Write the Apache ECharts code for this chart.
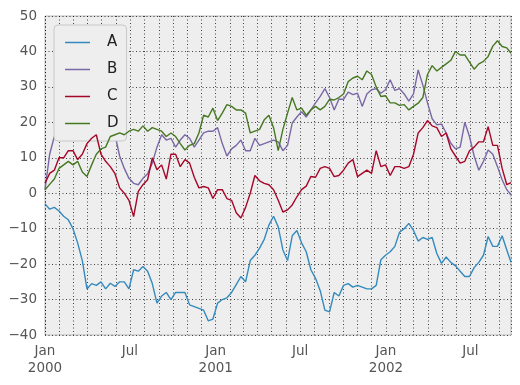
<!DOCTYPE html>
<html>
<head>
<meta charset="utf-8">
<script src="https://cdn.jsdelivr.net/npm/echarts@6/dist/echarts.min.js"></script>
<style>
html,body{margin:0;padding:0;background:#ffffff;}
#chart{width:520px;height:385px;}
</style>
</head>
<body>
<div id="chart"></div>
<script>
// Sampling index: every 10 days from 2000-01-01, plus the last day (day 999)
const startDate = '2000-01-01';
const dayOffsets = [0,10,20,30,40,50,60,70,80,90,100,110,120,130,140,150,160,170,180,190,200,210,220,230,240,250,260,270,280,290,300,310,320,330,340,350,360,370,380,390,400,410,420,430,440,450,460,470,480,490,500,510,520,530,540,550,560,570,580,590,600,610,620,630,640,650,660,670,680,690,700,710,720,730,740,750,760,770,780,790,800,810,820,830,840,850,860,870,880,890,900,910,920,930,940,950,960,970,980,990,999];

const seriesA = [-3,-4.5,-4,-5,-6.5,-7.5,-10,-14,-19,-27,-25.5,-26,-25,-27,-25.4,-26.3,-25,-25,-27,-21.6,-22,-20.7,-22,-25.5,-31,-29,-28,-30,-28,-28,-28,-31.5,-32,-32.5,-33,-36,-35.5,-31,-30,-29.5,-28,-25.8,-23.5,-25,-19,-17.5,-15.5,-13,-9,-6.5,-9.5,-16,-19,-12,-10.5,-14,-16.5,-21.6,-24,-27.5,-33,-33.5,-28,-29,-26,-25.5,-26.5,-26,-26.5,-27,-27,-26,-18.8,-17.5,-16.5,-15,-11,-10,-8.5,-10.5,-13.5,-12.5,-13,-12.5,-17,-19.8,-18,-19.5,-20.5,-22,-23.5,-23.5,-21,-19.5,-17.5,-12.2,-15,-15,-12,-16,-19.5];
const seriesB = [1,11,16,17,16,18,18,17,18,19,19,19,19,19,18,16.5,10.5,7,4.2,2.8,2.4,4.2,5.5,8.5,13,16.5,15,15.5,13,15,16.5,15.5,13,15,17,17.5,17.5,18.5,14,10.5,12.5,13.5,15,12,12,15.5,13.5,14,14.5,15,14.5,12,13.5,19.8,21.5,23,21.5,23.5,25.5,27.3,29.5,27,23.5,26.5,26.5,28.5,27.8,28.2,24.5,28,29.2,29.5,28.2,29.2,32,29,29.5,28,26,28,34.8,30.5,25.5,21,19.3,19.5,17,14.1,12.5,13,20,16,10.5,6.5,9,12.2,11,7.5,3.8,1,-0.5];
const seriesC = [2.8,5.6,6.5,10,10,12,12,9.5,11,14,15.5,16.5,11,9,7.5,5.5,1.5,0,-2,-6.6,0.5,2.4,3.8,10,6.6,8,4,11,11,7.5,9.5,8.5,4.5,1.5,1.9,1.5,-1.5,1,1,-1.5,-2,-5.5,-7,-4,0,5,3.5,2.8,2.4,1,-2,-5.3,-4.7,-3.3,-1,1,2,4.7,4.5,7,7.5,7,4.7,5,6.5,8.5,9.5,4.7,5.6,6.5,5.6,12,7.5,8,5,7.5,7.5,7,7.5,11,17,18.5,20.5,19,18.5,16,17,12.5,10.5,8.5,9,12,13,14.5,14.5,18.8,13.5,13.5,7,2.4,3];
const seriesD = [1,2.5,4,7,8,9,8,9,6,4.7,8,11,12.5,13,16,16.5,17,16.5,17.5,18,17.5,19,17.5,18.5,18,17.5,16,17,16,14,12.2,13.5,14,17,22,21.5,24,20.5,22.6,25,24.5,23.5,23.5,22.6,17,17.5,18,20.7,22,18.5,12,18,22.6,27,23.5,24,22,23.5,24.5,23.5,24.5,26.5,26.3,27,28,31.5,32.5,33,32,34.5,33.5,30,27.3,27.5,25.5,25.5,24.8,25,23.5,24.5,25.4,27,33.5,36,34.5,35.5,36.5,37.5,40,39,39,37,35,36.5,37.2,38.6,41.5,43,41.4,41,39.5];

const seriesNames = ['A','B','C','D'];
const seriesColors = ['#348ABD','#7A68A6','#A60628','#467821'];
const yTicks = [-40,-30,-20,-10,0,10,20,30,40,50];

const DAY = 86400000;
const [sy, sm, sd] = startDate.split('-').map(Number);
const t0 = new Date(sy, sm - 1, sd).getTime();
const times = dayOffsets.map(d => t0 + d * DAY);
const allValues = [seriesA, seriesB, seriesC, seriesD];

const chart = echarts.init(document.getElementById('chart'), null, {renderer: 'canvas'});
const dotted = {color: '#000000', width: 0.8, type: [1, 2.5], opacity: 0.9};

chart.setOption({
  animation: false,
  backgroundColor: '#ffffff',
  grid: {
    left: 45, top: 16, right: 9, bottom: 50,
    show: true, backgroundColor: '#eeeeee', borderColor: '#bcbcbc', borderWidth: 1
  },
  legend: {
    orient: 'vertical',
    left: 54, top: 25,
    data: seriesNames,
    icon: 'rect',
    itemWidth: 25, itemHeight: 1.5, itemGap: 12,
    padding: [10, 8, 10, 11],
    backgroundColor: '#eeeeee',
    borderColor: '#c8c8c8', borderWidth: 1, borderRadius: 4,
    textStyle: {fontFamily: 'DejaVu Sans', fontSize: 15, lineHeight: 14, color: '#222', padding: [0, 0, 0, 12]},
    selectedMode: false
  },
  xAxis: {
    type: 'time',
    min: times[0],
    max: times[times.length - 1],
    splitNumber: 33,
    axisLine: {show: false},
    axisTick: {show: false},
    axisLabel: {
      interval: 0,
      hideOverlap: false,
      fontFamily: 'DejaVu Sans', fontSize: 13.5, color: '#555555',
      margin: 8, lineHeight: 17, align: 'center',
      formatter: function (value) {
        const d = new Date(value);
        if (d.getDate() !== 1) return '';
        if (d.getMonth() === 0) return 'Jan\n' + d.getFullYear();
        if (d.getMonth() === 6) return 'Jul';
        return '';
      }
    },
    splitLine: {show: true, lineStyle: dotted}
  },
  yAxis: {
    type: 'value',
    min: yTicks[0], max: yTicks[yTicks.length - 1], interval: 10,
    axisLine: {show: false},
    axisTick: {show: false},
    axisLabel: {fontFamily: 'DejaVu Sans', fontSize: 13.5, color: '#555555', margin: 8,
      formatter: v => (v < 0 ? '\u2212' + Math.abs(v) : String(v))},
    splitLine: {show: true, lineStyle: dotted}
  },
  series: seriesNames.map((name, i) => ({
    name: name,
    type: 'line',
    symbol: 'none',
    z: 2 + i,
    color: seriesColors[i],
    lineStyle: {width: 1.4, color: seriesColors[i]},
    data: times.map((t, k) => [t, allValues[i][k]])
  }))
});
</script>
</body>
</html>
